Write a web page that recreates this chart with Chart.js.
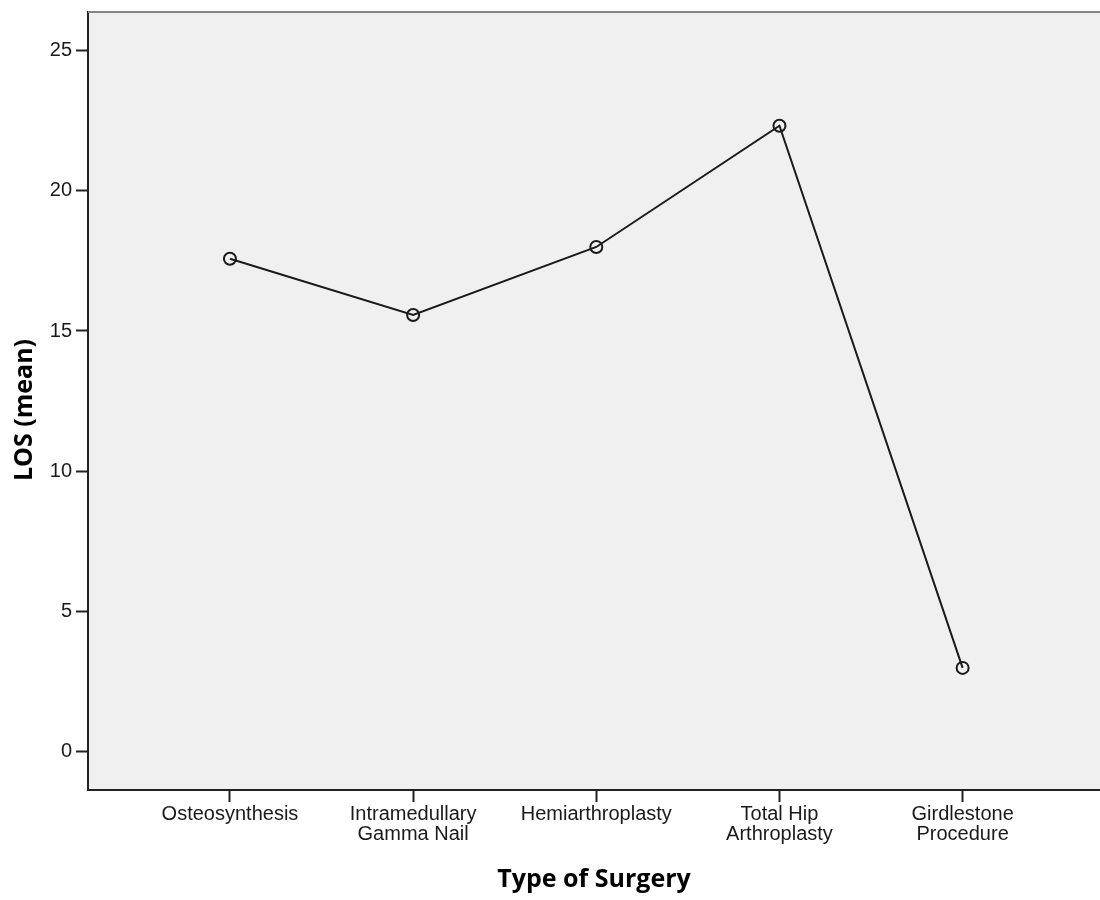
<!DOCTYPE html>
<html>
<head>
<meta charset="utf-8">
<script src="https://cdn.jsdelivr.net/npm/chart.js@4.4.1/dist/chart.umd.min.js"></script>
<style>
  html, body { margin: 0; padding: 0; background: #ffffff; overflow: hidden; }
  #wrap { width: 1100px; height: 900px; overflow: hidden; }
  canvas { display: block; }
</style>
</head>
<body>
<div id="wrap"><canvas id="c" width="1100" height="900"></canvas></div>
<script>
// ---- data ----
const categories = [
  ["Osteosynthesis"],
  ["Intramedullary", "Gamma Nail"],
  ["Hemiarthroplasty"],
  ["Total Hip", "Arthroplasty"],
  ["Girdlestone", "Procedure"]
];
const losMean = [17.58, 15.57, 18.0, 22.33, 2.97];
const yTicks = [0, 5, 10, 15, 20, 25];
const xTitle = "Type of Surgery";
const yTitle = "LOS (mean)";

const points = losMean.map((v, i) => ({ x: i, y: v }));

function zeroPad(scale) {
  scale.paddingTop = 0;
  scale.paddingBottom = 0;
  scale.paddingLeft = 0;
  scale.paddingRight = 0;
}

const bgPlugin = {
  id: 'bgPlugin',
  beforeDraw(chart) {
    const { ctx, chartArea: a } = chart;
    ctx.save();
    ctx.fillStyle = '#f0f0f0';
    ctx.fillRect(a.left, a.top, a.right - a.left, a.bottom - a.top);
    ctx.restore();
  },
  afterDraw(chart) {
    const { ctx, chartArea: a } = chart;
    ctx.save();
    ctx.strokeStyle = '#858585';
    ctx.lineWidth = 2;
    ctx.beginPath();
    ctx.moveTo(a.left, a.top);
    ctx.lineTo(a.right, a.top);
    ctx.stroke();
    // y axis title (rotated)
    ctx.translate(25, 410);
    ctx.rotate(-Math.PI / 2);
    ctx.fillStyle = '#000';
    ctx.font = 'bold 25px "Open Sans", sans-serif';
    ctx.textAlign = 'center';
    ctx.textBaseline = 'middle';
    ctx.fillText(yTitle, 0, 0);
    ctx.restore();
  }
};

new Chart(document.getElementById('c'), {
  type: 'line',
  data: {
    datasets: [{
      data: points,
      borderColor: '#1a1a1a',
      borderWidth: 2,
      backgroundColor: 'rgba(0,0,0,0)',
      pointBackgroundColor: 'rgba(0,0,0,0)',
      pointBorderColor: '#1a1a1a',
      pointBorderWidth: 2,
      pointRadius: 6,
      pointHoverRadius: 6,
      tension: 0,
      fill: false
    }]
  },
  options: {
    responsive: false,
    animation: false,
    devicePixelRatio: 1,
    layout: { autoPadding: false, padding: { top: 12, right: 0, bottom: 0, left: 0 } },
    plugins: {
      legend: { display: false },
      tooltip: { enabled: false }
    },
    scales: {
      x: {
        type: 'linear',
        min: -0.775,
        max: 4.75,
        afterBuildTicks(scale) {
          scale.ticks = categories.map((c, i) => ({ value: i }));
        },
        afterFit(scale) { scale.height = 110; zeroPad(scale); },
        ticks: {
          autoSkip: false,
          maxRotation: 0,
          padding: 2,
          color: '#1a1a1a',
          font: { family: 'Liberation Sans, Arial, sans-serif', size: 20, lineHeight: 1.0 },
          callback: (v) => categories[v]
        },
        grid: {
          display: true,
          drawOnChartArea: false,
          drawTicks: true,
          tickLength: 12,
          tickWidth: 2,
          tickColor: '#222'
        },
        border: { display: true, color: '#222', width: 2 },
        title: {
          display: true,
          text: xTitle,
          color: '#000',
          font: { family: 'Open Sans, sans-serif', size: 25, weight: 'bold', lineHeight: 1.2 },
          padding: { top: 0, bottom: 5 }
        }
      },
      y: {
        type: 'linear',
        min: -1.39,
        max: 26.39,
        afterBuildTicks(scale) {
          scale.ticks = yTicks.map(v => ({ value: v }));
        },
        afterFit(scale) { scale.width = 88; zeroPad(scale); },
        ticks: {
          padding: 4,
          color: '#1a1a1a',
          font: { family: 'Liberation Sans, Arial, sans-serif', size: 20 }
        },
        grid: {
          display: true,
          drawOnChartArea: false,
          drawTicks: true,
          tickLength: 12,
          tickWidth: 2,
          tickColor: '#222'
        },
        border: { display: true, color: '#222', width: 2 },
        title: { display: false, text: yTitle }
      }
    }
  },
  plugins: [bgPlugin]
});
</script>
</body>
</html>
